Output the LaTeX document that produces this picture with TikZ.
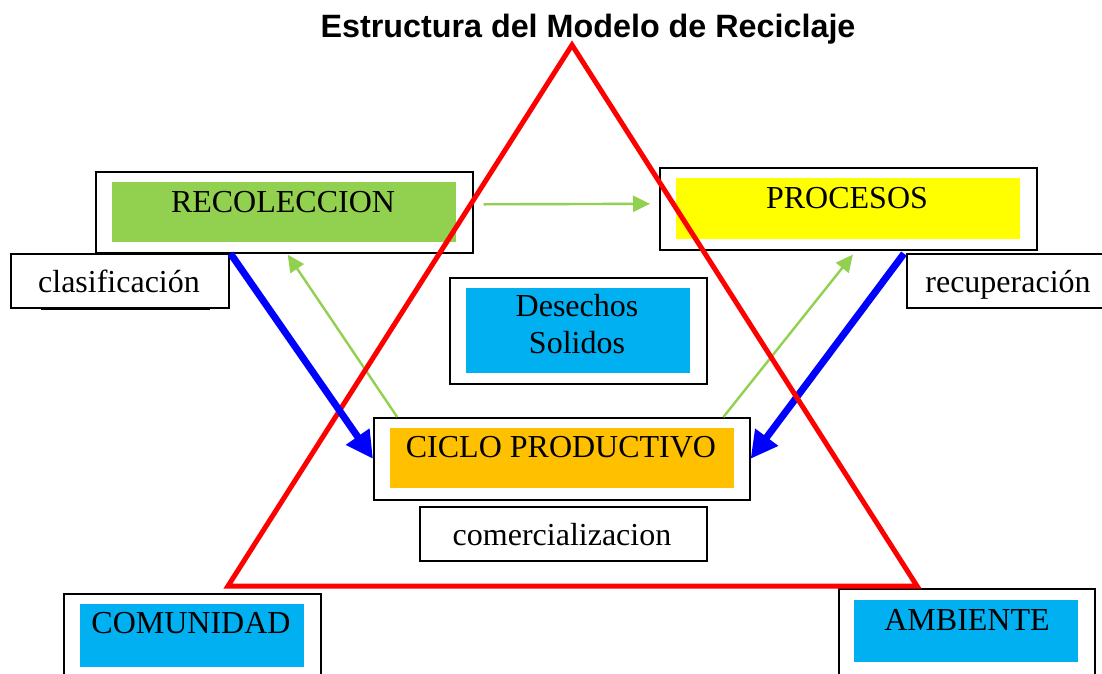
\documentclass[tikz,border=0pt]{standalone}
\usepackage{fontspec}
\setmainfont{Liberation Serif}
\newfontfamily\titlefont{Liberation Sans}
\usetikzlibrary{arrows.meta,calc}
\definecolor{verde}{HTML}{92D050}
\definecolor{amarillo}{HTML}{FFFF00}
\definecolor{celeste}{HTML}{00B0F0}
\definecolor{naranja}{HTML}{FFC000}
\begin{document}
\begin{tikzpicture}[x=1pt,y=-1pt,
  obox/.style={draw=black,line width=1.6pt,fill=white,anchor=north west,inner sep=0pt},
  ibox/.style={fill=#1,draw=none,anchor=north west,inner sep=0pt},
  lbl/.style={anchor=base,inner sep=0pt,font=\fontsize{32}{37}\selectfont},
  greenarrow/.style={draw=verde,line width=2.4pt,-{Triangle[length=17pt,width=16pt]}},
  bluearrow/.style={draw=blue,line width=7pt,-{Triangle[length=27pt,width=27pt]}},
  tri/.style={draw=red,line width=5pt,line join=miter}
]
\useasboundingbox (0,0) rectangle (1102,673);
\clip (0,0) rectangle (1102,673);
\fill[white] (0,0) rectangle (1102,673);

% title
\node[anchor=base,inner sep=0pt,font=\titlefont\bfseries\fontsize{32.3}{37}\selectfont] (title) at (588,37) {Estructura del Modelo de Reciclaje};

% RECOLECCION
\node[obox,minimum width=377pt,minimum height=81pt] (recO) at (95,171) {};
\node[ibox=verde,minimum width=344pt,minimum height=60pt] (recI) at (112,182) {};
\node[lbl] (recT) at (283,212) {RECOLECCION};

% PROCESOS
\node[obox,minimum width=377pt,minimum height=82pt] (proO) at (659,167) {};
\node[ibox=amarillo,minimum width=344pt,minimum height=61pt] (proI) at (676,178) {};
\node[lbl] (proT) at (847,208) {PROCESOS};

% clasificacion
\draw[black,line width=1.6pt] (41,309) -- (210,309);
\node[obox,minimum width=218pt,minimum height=54pt] (clas) at (10,253) {};
\node[lbl] (clasT) at (119,292) {clasificación};

% recuperacion
\node[obox,minimum width=210pt,minimum height=54pt] (recu) at (906,253) {};
\node[lbl] (recuT) at (1008,292) {recuperación};

% Desechos Solidos
\node[obox,minimum width=257pt,minimum height=106pt] (desO) at (449,277) {};
\node[ibox=celeste,minimum width=224pt,minimum height=85pt] (desI) at (466,288) {};
\node[lbl] (desT1) at (577,316) {Desechos};
\node[lbl] (desT2) at (577,353) {Solidos};

% CICLO PRODUCTIVO
\node[obox,minimum width=376pt,minimum height=82pt] (cicO) at (373,417) {};
\node[ibox=naranja,minimum width=344pt,minimum height=60pt] (cicI) at (390,428) {};
\node[lbl] (cicT) at (561,457) {CICLO PRODUCTIVO};

% comercializacion
\node[obox,minimum width=287pt,minimum height=54pt] (com) at (419,506) {};
\node[lbl] (comT) at (562,545) {comercializacion};

% COMUNIDAD
\node[obox,minimum width=257pt,minimum height=100pt] (comuO) at (63,593) {};
\node[ibox=celeste,minimum width=224pt,minimum height=63pt] (comuI) at (80,604) {};
\node[lbl] (comuT) at (191,633) {COMUNIDAD};

% AMBIENTE
\node[obox,minimum width=256pt,minimum height=100pt] (ambO) at (838,588) {};
\node[ibox=celeste,minimum width=224pt,minimum height=62pt] (ambI) at (854,600) {};
\node[lbl] (ambT) at (967,630) {AMBIENTE};

% green arrows
\draw[greenarrow] ($(recO.east)+(10,-8)$) -- ($(proO.west)+(-9,-5)$);
\draw[greenarrow] ($(cicO.north west)!0.064!(cicO.north east)$) -- ($(recO.south west)!0.509!(recO.south east)+(0,1)$);
\draw[greenarrow] ($(cicO.north west)!0.928!(cicO.north east)$) -- ($(proO.south west)!0.512!(proO.south east)+(0,4)$);

% right blue arrow (under triangle)
\draw[bluearrow] ($(proO.south west)!0.647!(proO.south east)+(0,3)$) -- (cicO.east);

% triangle
\coordinate (apex) at (572,45);
\coordinate (bl) at (228,586);
\coordinate (br) at (917,586);
\draw[tri] (apex) -- (bl) -- (br) -- cycle;

% left blue arrow (over triangle)
\draw[bluearrow] ($(recO.south west)!0.358!(recO.south east)$) -- (cicO.west);
\end{tikzpicture}
\end{document}
